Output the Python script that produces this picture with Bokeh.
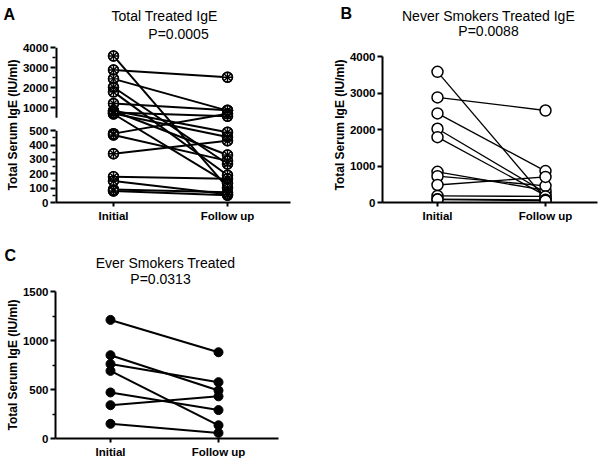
from bokeh.plotting import figure
from bokeh.models import Range1d, FixedTicker
from bokeh.core.properties import value
from bokeh.layouts import column, row
from bokeh.embed import file_html
from bokeh.resources import INLINE

# ---------------- data ----------------
categories = ["Initial", "Follow up"]

never_initial = [3580, 2880, 2440, 2020, 1790, 840, 720, 480, 180, 90, 80]
never_follow = [103, 2520, 860, 268, 190, 331, 456, 700, 166, 72, 50]

ever_initial = [1210, 850, 760, 690, 470, 340, 150]
ever_follow = [880, 490, 575, 135, 290, 430, 57]

total_initial = never_initial + ever_initial
total_follow = never_follow + ever_follow

titles_a = ["Total Treated IgE", "P=0.0005"]
titles_b = ["Never Smokers Treated IgE", "P=0.0088"]
titles_c = ["Ever Smokers Treated", "P=0.0313"]
panel_letters = ["A", "B", "C"]
y_label = "Total Serum IgE (IU/ml)"

a_low_ticks = [0, 100, 200, 300, 400, 500]
a_low_minor = [50, 150, 250, 350, 450]
a_high_ticks = [1000, 2000, 3000, 4000]
a_high_minor = [500, 1500, 2500, 3500]
b_ticks = [0, 1000, 2000, 3000, 4000]
c_ticks = [0, 500, 1000, 1500]
c_minor = [250, 750, 1250]

# broken-axis mapping for panel A
BREAK = 500
GAP = 90
TOP_SCALE = 0.14


def z(v):
    return v if v <= BREAK else BREAK + GAP + (v - BREAK) * TOP_SCALE


FONT = "Liberation Sans"
xpos = list(range(len(categories)))


def style(p, yticks, yminor, overrides=None):
    p.xgrid.visible = False
    p.ygrid.visible = False
    p.outline_line_color = None
    p.background_fill_color = "white"
    p.border_fill_color = "white"
    for ax in p.axis:
        ax.axis_line_width = 2
        ax.axis_line_color = "black"
        ax.major_tick_line_width = 2
        ax.major_tick_line_color = "black"
        ax.major_tick_in = 0
        ax.major_tick_out = 5
        ax.minor_tick_line_width = 1.5
        ax.minor_tick_line_color = "black"
        ax.minor_tick_in = 0
        ax.minor_tick_out = 3
        ax.major_label_text_font = FONT
        ax.major_label_text_font_style = "bold"
        ax.major_label_text_font_size = "11.5px"
        ax.major_label_text_color = "black"
        ax.major_label_standoff = 2
        ax.axis_label_text_font = FONT
        ax.axis_label_text_font_style = "bold"
        ax.axis_label_text_font_size = "12px"
        ax.axis_label_text_color = "black"
        ax.axis_label_standoff = 0
    p.xaxis.ticker = FixedTicker(ticks=xpos)
    p.xaxis.major_label_overrides = {i: c for i, c in enumerate(categories)}
    p.xaxis.major_tick_out = 4
    p.xaxis.major_label_standoff = 3
    p.yaxis.ticker = FixedTicker(ticks=yticks, minor_ticks=yminor)
    p.yaxis.axis_label = y_label
    if overrides:
        p.yaxis.major_label_overrides = overrides


def add_titles(p, frame, xr, yr, letter, lines, letter_pos, line_pos):
    fl, ft, fr, fb = frame

    def conv(px, py):
        return (xr[0] + (px - fl) / (fr - fl) * (xr[1] - xr[0]),
                yr[0] + (fb - py) / (fb - ft) * (yr[1] - yr[0]))

    lx, ly = conv(*letter_pos)
    p.text(x=[lx], y=[ly], text=[letter], text_font=value(FONT), text_font_size="16px",
           text_font_style="bold", text_align="left", text_baseline="alphabetic",
           text_color="black", level="overlay")
    pts = [conv(*lp) for lp in line_pos]
    p.text(x=[q[0] for q in pts], y=[q[1] for q in pts], text=lines, text_font=value(FONT),
           text_font_size="14px", text_align="center", text_baseline="alphabetic",
           text_color="black", level="overlay")


def pairs(init, foll, f=lambda v: v):
    xs = [xpos[:] for _ in init]
    ys = [[f(a), f(b)] for a, b in zip(init, foll)]
    return xs, ys


# ---------------- panel A (broken axis) ----------------
frameA = (55, 47, 290, 202)
xrA = (-(113 - 55) / 114, 1 + (290 - 227) / 114)
yrA = (0, z(4000))
pA = figure(width=300, height=225, x_range=Range1d(*xrA), y_range=Range1d(*yrA),
            output_backend="svg", toolbar_location=None,
            min_border_left=55, min_border_right=10, min_border_top=47, min_border_bottom=23)
overrides = {z(t): str(t) for t in a_high_ticks}
style(pA, a_low_ticks + [z(t) for t in a_high_ticks],
      a_low_minor + [z(t) for t in a_high_minor], overrides)
pA.yaxis.axis_line_color = None
pA.segment(x0=[xrA[0]] * 2, y0=[0, z(BREAK) + GAP], x1=[xrA[0]] * 2, y1=[BREAK, z(4000)],
           line_width=4, color="black")
xs, ys = pairs(total_initial, total_follow, z)
pA.multi_line(xs, ys, line_width=2, color="black")
for col, vals in zip(xpos, [total_initial, total_follow]):
    yv = [z(v) for v in vals]
    pA.scatter([col] * len(vals), yv, marker="circle_cross", size=10,
               fill_color="white", line_color="black", line_width=1.4)
    pA.scatter([col] * len(vals), yv, marker="circle_x", size=10,
               fill_color=None, line_color="black", line_width=1.4)
add_titles(pA, frameA, xrA, yrA, panel_letters[0], titles_a, (3, 14), [(164, 15), (178, 33)])

# ---------------- panel B ----------------
frameB = (382, 47, 597, 202)
xrB = (-(437 - 382) / 108, 1 + (597 - 545) / 108)
yrB = (0, 4000 * (202 - 47) / (202 - 56))
pB = figure(width=300, height=225, x_range=Range1d(*xrB), y_range=Range1d(*yrB),
            output_backend="svg", toolbar_location=None,
            min_border_left=82, min_border_right=3, min_border_top=47, min_border_bottom=23)
style(pB, b_ticks, [])
pB.yaxis.bounds = (b_ticks[0], b_ticks[-1])
xs, ys = pairs(never_initial, never_follow)
pB.multi_line(xs, ys, line_width=1.3, color="black")
for col, vals in zip(xpos, [never_initial, never_follow]):
    pB.scatter([col] * len(vals), vals, marker="circle", size=11,
               fill_color="white", line_color="black", line_width=1.5)
add_titles(pB, frameB, xrB, yrB, panel_letters[1], titles_b, (340, 13), [(488, 15), (488, 30)])

# ---------------- panel C ----------------
frameC = (55, 291, 278, 438)
xrC = (-(110 - 55) / 108, 1 + (278 - 218) / 108)
yrC = (0, 1500)
pC = figure(width=300, height=235, x_range=Range1d(*xrC), y_range=Range1d(*yrC),
            output_backend="svg", toolbar_location=None,
            min_border_left=55, min_border_right=22, min_border_top=66, min_border_bottom=22)
style(pC, c_ticks, c_minor)
xs, ys = pairs(ever_initial, ever_follow)
pC.multi_line(xs, ys, line_width=2, color="black")
for col, vals in zip(xpos, [ever_initial, ever_follow]):
    pC.scatter([col] * len(vals), vals, marker="circle", size=9,
               fill_color="black", line_color="black")
add_titles(pC, frameC, xrC, yrC, panel_letters[2], titles_c, (4, 255), [(165, 262), (160, 278)])

layout = column(row(pA, pB), row(pC))
open("out.html", "w").write(file_html(layout, INLINE))
